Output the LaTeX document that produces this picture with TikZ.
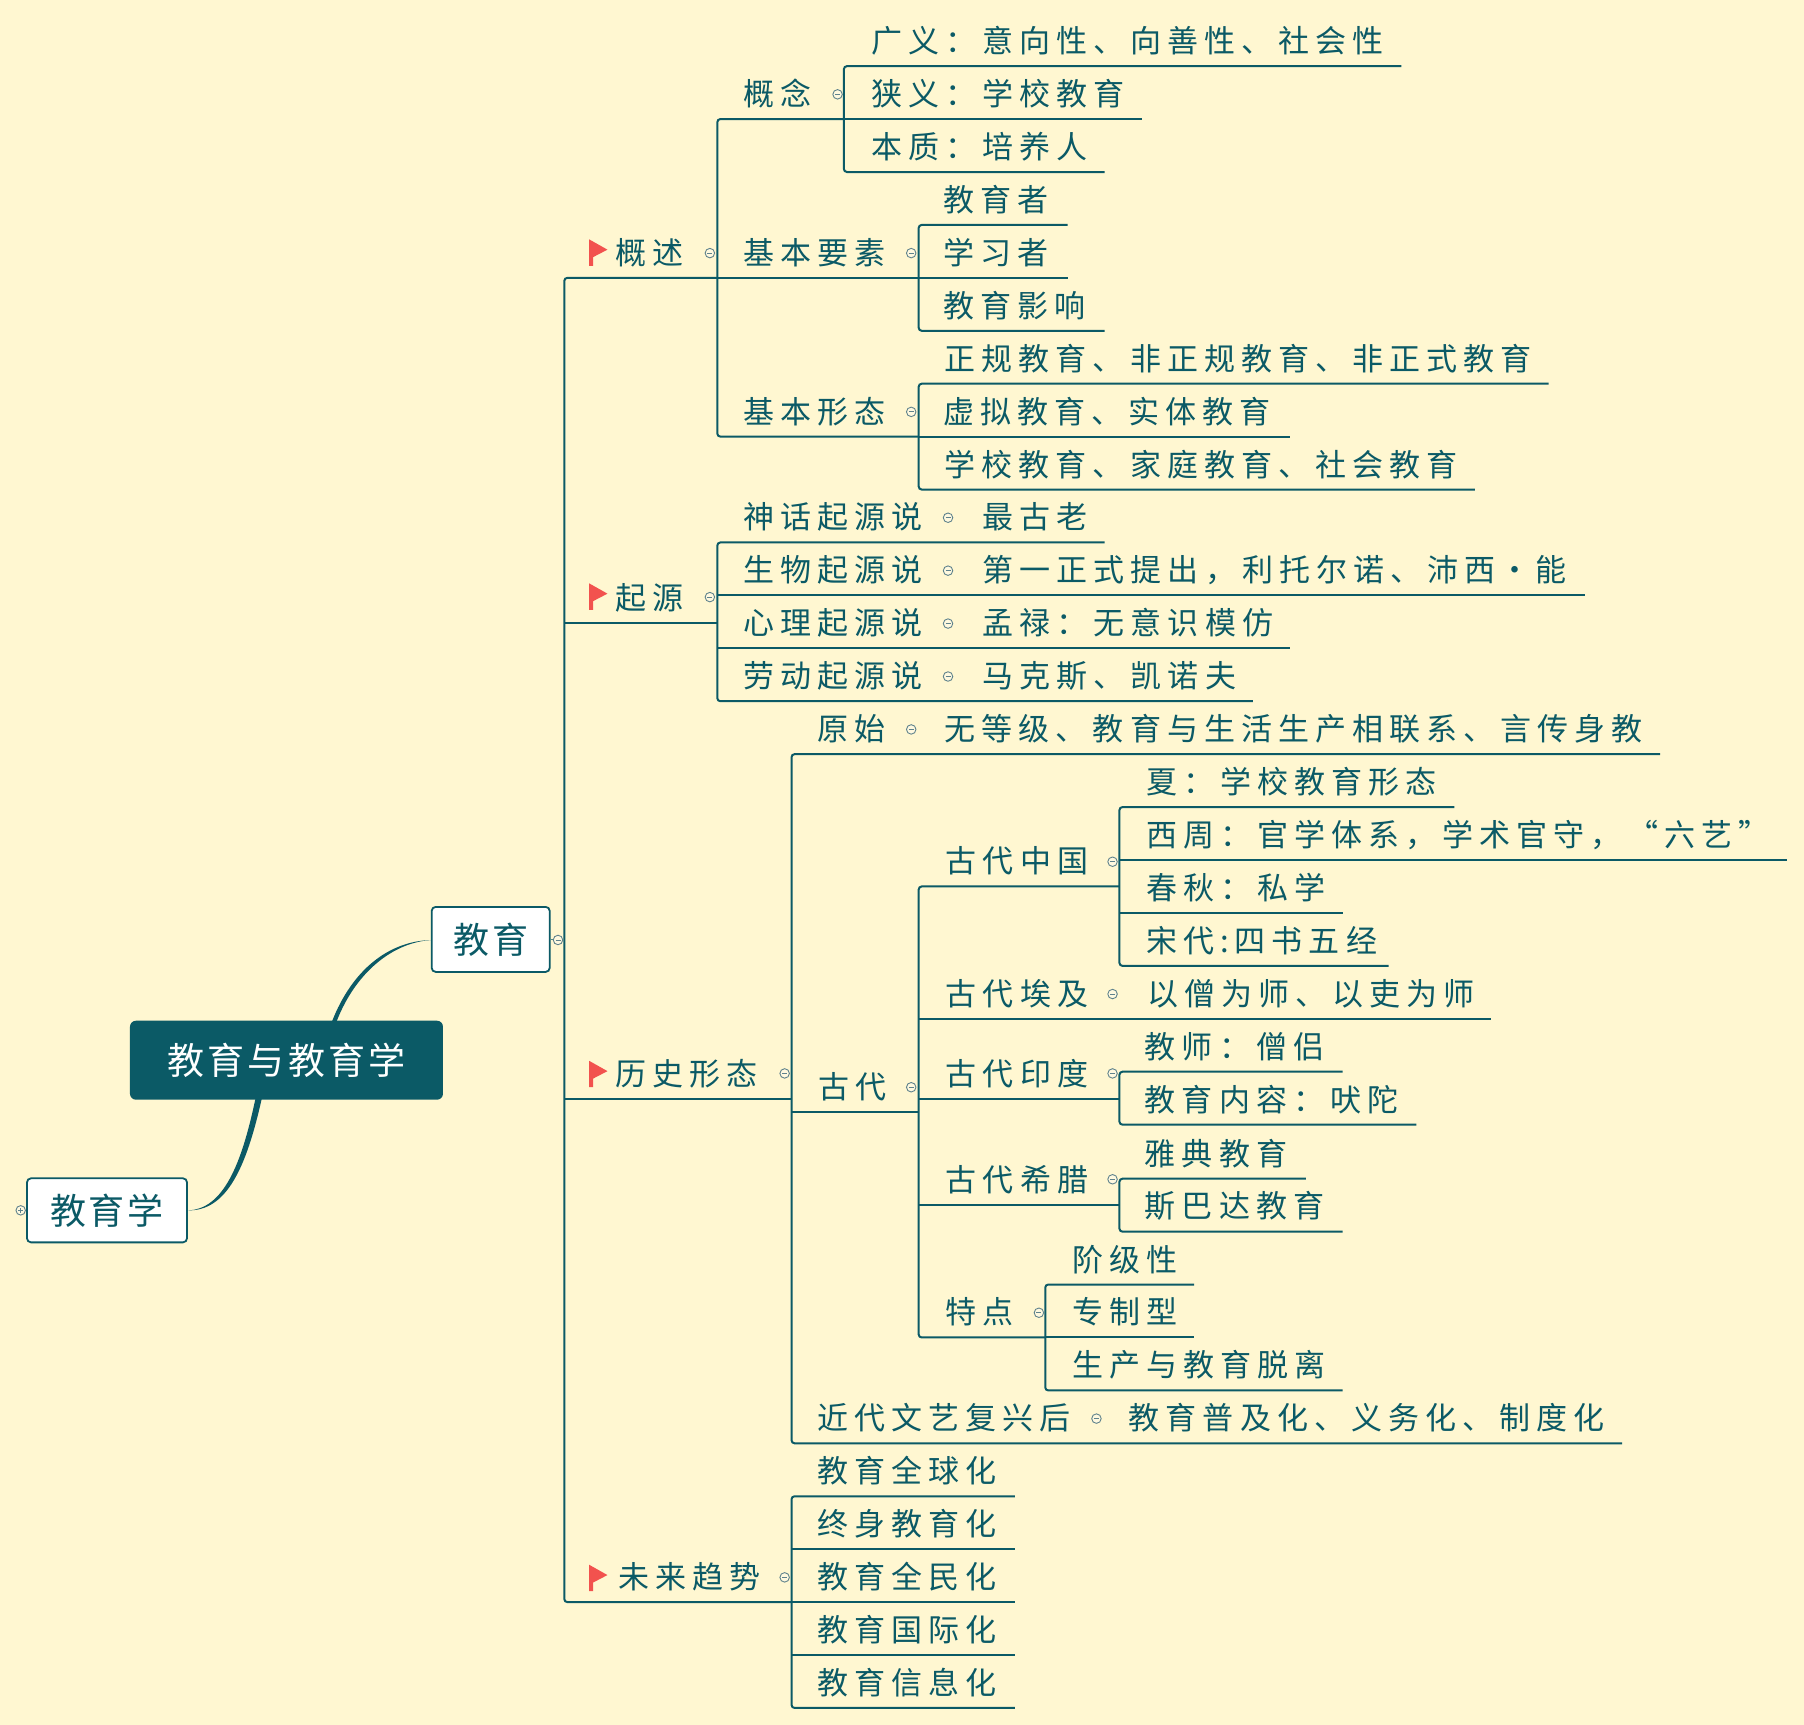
\documentclass[tikz,border=0pt]{standalone}
\usepackage{fontspec}
\setmainfont{Noto Sans CJK SC}
\newfontfamily\cjk[LetterSpace=19.5]{Noto Sans CJK SC}
\newfontfamily\cjkbig[LetterSpace=8]{Noto Sans CJK SC}
\newfontfamily\cjkroot[LetterSpace=9]{Noto Sans CJK SC}
\definecolor{teal0}{HTML}{0B5A66}
\definecolor{paper}{HTML}{FFF7D1}
\definecolor{flagred}{HTML}{F2524E}
\definecolor{iconline}{HTML}{5F828C}
\tikzset{
  ln/.style={draw=teal0,line width=2pt},
  spine/.style={ln,rounded corners=3pt},
  lab/.style={text=teal0,inner sep=0pt,anchor=west,font=\cjk\fontsize{31}{33}\selectfont},
  topic/.style={draw=teal0,line width=1.8pt,fill=white,rounded corners=4pt,text=teal0,inner sep=0pt,font=\cjkbig\fontsize{36}{38}\selectfont},
  root/.style={fill=teal0,rounded corners=6pt,text=white,inner sep=0pt,font=\cjkroot\fontsize{37}{38}\selectfont},
  iconc/.style={circle,draw=iconline,fill=paper!70!white,line width=.9pt,inner sep=0pt,minimum size=9.5pt},
  flagp/.style={fill=flagred,draw=none},
}
% underline with coordinates only (ends of a spine)
\newcommand\uc[4]{\coordinate (#1a) at (#2,#4);\coordinate (#1b) at (#3,#4);}
% underline drawn
\newcommand\ul[4]{\uc{#1}{#2}{#3}{#4}\draw[ln] (#1a) -- (#1b);}
% label: name, x, line y, text
\newcommand\lb[4]{\node[lab] (#1) at (#2,#3-21.5) {#4};}
% collapse icon: name, x, y
\newcommand\ic[3]{\node[iconc] (#1) at (#2,#3) {};\draw[iconline,line width=.9pt] ($(#1)+(-2.5pt,0)$) -- ($(#1)+(2.5pt,0)$);}
% flag: name, x, line y
\newcommand\fl[3]{\coordinate (#1) at (#2,#3);
  \fill[flagp] ($(#1)+(0,-33)$) -- ($(#1)+(16,-24)$) -- ($(#1)+(3.5,-17.5)$) -- ($(#1)+(3.5,-10)$) -- ($(#1)+(0,-10)$) -- cycle;}
\usetikzlibrary{calc}
\begin{document}
\begin{tikzpicture}[x=1.1505pt,y=-1.1505pt]
\fill[paper] (0,0) rectangle (1568,1499);
\useasboundingbox (0,0) rectangle (1568,1499);

% ---------- 概述
\uc{gn1}{733.5}{1218}{57.5}\ul{gn2}{733.5}{993}{103.5}\uc{gn3}{733.5}{960}{149.5}
\draw[spine] (gn1b) -- (gn1a) -- (gn3a) -- (gn3b);
\uc{gn}{623.5}{733.5}{103.5}
\uc{ys1}{798.5}{928}{195.5}\ul{ys2}{798.5}{928}{241.5}\uc{ys3}{798.5}{960}{287.5}
\draw[spine] (ys1b) -- (ys1a) -- (ys3a) -- (ys3b);
\ul{ys}{623.5}{798.5}{241.5}
\uc{xt1}{798.5}{1346}{333.5}\ul{xt2}{798.5}{1121}{379.5}\uc{xt3}{798.5}{1282}{425.5}
\draw[spine] (xt1b) -- (xt1a) -- (xt3a) -- (xt3b);
\uc{xt}{623.5}{798.5}{379.5}
\draw[spine] (gnb) -- (gna) -- (xta) -- (xtb);
\uc{gs}{490.5}{623.5}{241.5}
% ---------- 起源
\uc{qy1}{623.5}{960}{471.5}\ul{qy2}{623.5}{1378}{517.5}\ul{qy3}{623.5}{1121}{563.5}\uc{qy4}{623.5}{1089}{609.5}
\draw[spine] (qy1b) -- (qy1a) -- (qy4a) -- (qy4b);
\ul{qy}{490.5}{623.5}{541.5}
% ---------- 历史形态
\uc{ys}{688}{1443}{655.5}
\uc{jd}{688}{1410}{1254.5}
\draw[spine] (ysb) -- (ysa) -- (jda) -- (jdb);
\ul{ls}{490.5}{688}{955.5}
\ul{gd}{688}{798.5}{966.5}
\uc{zg1}{973}{1264}{701.5}\ul{zg2}{973}{1553}{747.5}\ul{zg3}{973}{1167}{793.5}\uc{zg4}{973}{1207}{839.5}
\draw[spine] (zg1b) -- (zg1a) -- (zg4a) -- (zg4b);
\uc{zg}{798.5}{973}{770.5}
\ul{ej}{798.5}{1296}{885.5}
\uc{yd1}{973}{1167}{931.5}\uc{yd2}{973}{1231}{977.5}
\draw[spine] (yd1b) -- (yd1a) -- (yd2a) -- (yd2b);
\ul{yd}{798.5}{973}{955.5}
\uc{xl1}{973}{1135}{1024.5}\uc{xl2}{973}{1167}{1070.5}
\draw[spine] (xl1b) -- (xl1a) -- (xl2a) -- (xl2b);
\ul{xl}{798.5}{973}{1047.5}
\uc{td1}{908.5}{1038}{1116.5}\ul{td2}{908.5}{1038}{1162.5}\uc{td3}{908.5}{1167}{1208.5}
\draw[spine] (td1b) -- (td1a) -- (td3a) -- (td3b);
\uc{td}{798.5}{908.5}{1162.5}
\draw[spine] (zgb) -- (zga) -- (tda) -- (tdb);
% ---------- 未来趋势
\uc{wl1}{688}{882}{1300.5}\ul{wl2}{688}{882}{1346.5}\ul{wl3}{688}{882}{1392.5}\ul{wl4}{688}{882}{1438.5}\uc{wl5}{688}{882}{1484.5}
\draw[spine] (wl1b) -- (wl1a) -- (wl5a) -- (wl5b);
\uc{wl}{490.5}{688}{1392.5}
\draw[spine] (gsb) -- (gsa) -- (wla) -- (wlb);

% ---------- 标签
\lb{t1}{757}{57}{广义：意向性、向善性、社会性}
\lb{t2}{757}{103}{狭义：学校教育}
\lb{t3}{757}{149}{本质：培养人}
\lb{t4}{646}{103}{概念}
\lb{t5}{820}{195}{教育者}
\lb{t6}{820}{241}{学习者}
\lb{t7}{820}{287}{教育影响}
\lb{t8}{646}{241}{基本要素}
\lb{t9}{821}{333}{正规教育、非正规教育、非正式教育}
\lb{t10}{820}{379}{虚拟教育、实体教育}
\lb{t11}{821}{425}{学校教育、家庭教育、社会教育}
\lb{t12}{646}{379}{基本形态}
\lb{t13}{535}{241}{概述}
\lb{t14}{646}{471}{神话起源说}
\lb{t15}{854}{471}{最古老}
\lb{t16}{646}{517}{生物起源说}
\lb{t17}{854}{517}{第一正式提出，利托尔诺、沛西\makebox[40pt][c]{·}能}
\lb{t18}{646}{563}{心理起源说}
\lb{t19}{854}{563}{孟禄：无意识模仿}
\lb{t20}{646}{609}{劳动起源说}
\lb{t21}{854}{609}{马克斯、凯诺夫}
\lb{t22}{535}{541}{起源}
\lb{t23}{710}{655}{原始}
\lb{t24}{821}{655}{无等级、教育与生活生产相联系、言传身教}
\lb{t25}{996}{701}{夏：学校教育形态}
\lb{t26}{996}{747}{西周：官学体系，学术官守，“六艺”}
\lb{t27}{996}{793}{春秋：私学}
\lb{t28}{996}{839}{宋代:四书五经}
\lb{t29}{822}{770}{古代中国}
\lb{t30}{822}{885}{古代埃及}
\lb{t31}{997}{885}{以僧为师、以吏为师}
\lb{t32}{822}{955}{古代印度}
\lb{t33}{995}{931}{教师：僧侣}
\lb{t34}{995}{977}{教育内容：吠陀}
\lb{t35}{822}{1047}{古代希腊}
\lb{t36}{995}{1024}{雅典教育}
\lb{t37}{995}{1070}{斯巴达教育}
\lb{t38}{822}{1162}{特点}
\lb{t39}{932}{1116}{阶级性}
\lb{t40}{932}{1162}{专制型}
\lb{t41}{932}{1208}{生产与教育脱离}
\lb{t42}{711}{966}{古代}
\lb{t43}{710}{1254}{近代文艺复兴后}
\lb{t44}{981}{1254}{教育普及化、义务化、制度化}
\lb{t45}{535}{955}{历史形态}
\lb{t46}{710}{1300}{教育全球化}
\lb{t47}{710}{1346}{终身教育化}
\lb{t48}{710}{1392}{教育全民化}
\lb{t49}{710}{1438}{教育国际化}
\lb{t50}{710}{1484}{教育信息化}
\lb{t51}{537}{1392}{未来趋势}

% ---------- 旗
\fl{f1}{512}{241}\fl{f2}{512}{540}\fl{f3}{512}{955}\fl{f4}{512}{1393}

% ---------- 折叠图标
\ic{i1}{728}{82}\ic{i2}{617}{220}\ic{i3}{792}{220}\ic{i4}{792}{358}
\ic{i5}{824}{450}\ic{i6}{824}{496}\ic{i7}{824}{542}\ic{i8}{824}{588}
\ic{i9}{617}{519}\ic{i10}{682}{933}\ic{i11}{792}{634}\ic{i12}{967}{749}
\ic{i13}{967}{864}\ic{i14}{967}{933}\ic{i15}{967}{1025}\ic{i16}{792}{945}
\ic{i17}{903}{1141}\ic{i18}{953}{1233}\ic{i19}{682}{1371}

% ---------- 中心与主题
\coordinate (c1) at (288.5,888);\coordinate (c2) at (292.5,888);\coordinate (c3) at (376,817);
\coordinate (d1) at (222,955);\coordinate (d2) at (227.5,955);\coordinate (d3) at (163,1052);
\fill[teal0] (c1) .. controls (306,843) and (338,817.5) .. (c3) .. controls (342,818.5) and (309,845) .. (c2) -- cycle;
\fill[teal0] (d1) .. controls (210,1012) and (194,1051.5) .. (d3) .. controls (197,1053) and (214,1015) .. (d2) -- cycle;
\node[root,minimum width=313pt,minimum height=79pt] (root) at (249,921.5) {教育与教育学};
\node[topic,minimum width=118pt,minimum height=65pt] (edu) at (426.5,816.5) {教育};
\node[topic,minimum width=160pt,minimum height=64pt] (pedagogy) at (93,1052) {教育学};
\draw[teal0!70!paper,line width=.8pt] (edu.east) -- ++(3,0);
\ic{i20}{485}{817}
\ic{i21}{18}{1052}
\draw[iconline,line width=.9pt] ($(i21)+(0,-2.5pt)$) -- ($(i21)+(0,2.5pt)$);
\end{tikzpicture}
\end{document}
